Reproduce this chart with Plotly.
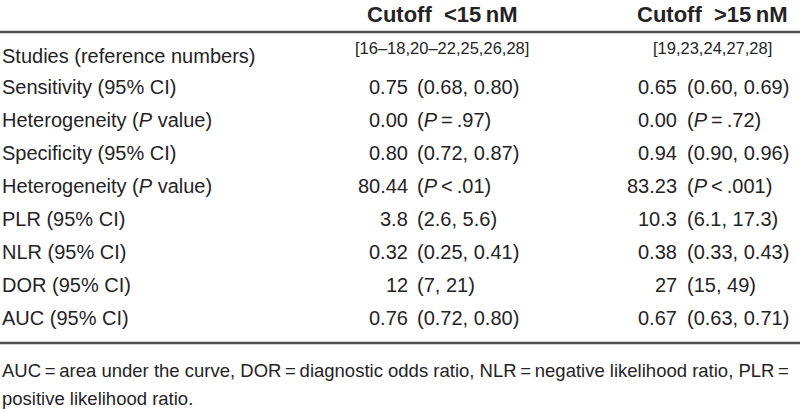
import plotly.graph_objects as go

# ---- data ----
col_headers = ["Cutoff\u00a0 <15\u2009nM", "Cutoff\u00a0 >15\u2009nM"]
studies_refs = ["[16–18,20–22,25,26,28]", "[19,23,24,27,28]"]
row_labels = [
    "Sensitivity (95% CI)",
    "Heterogeneity (<i>P</i> value)",
    "Specificity (95% CI)",
    "Heterogeneity (<i>P</i> value)",
    "PLR (95% CI)",
    "NLR (95% CI)",
    "DOR (95% CI)",
    "AUC (95% CI)",
]
studies_label = "Studies (reference numbers)"
low_est = ["0.75", "0.00", "0.80", "80.44", "3.8", "0.32", "12", "0.76"]
low_ci = ["(0.68, 0.80)", "(<i>P</i>\u2009=\u2009.97)", "(0.72, 0.87)", "(<i>P</i>\u2009<\u2009.01)",
          "(2.6, 5.6)", "(0.25, 0.41)", "(7, 21)", "(0.72, 0.80)"]
high_est = ["0.65", "0.00", "0.94", "83.23", "10.3", "0.38", "27", "0.67"]
high_ci = ["(0.60, 0.69)", "(<i>P</i>\u2009=\u2009.72)", "(0.90, 0.96)", "(<i>P</i>\u2009<\u2009.001)",
           "(6.1, 17.3)", "(0.33, 0.43)", "(15, 49)", "(0.63, 0.71)"]
footnote = [
    "AUC\u2009=\u2009area under the curve, DOR\u2009=\u2009diagnostic odds ratio, NLR\u2009=\u2009negative likelihood ratio, PLR\u2009=",
    "positive likelihood ratio.",
]

# ---- layout constants ----
W, H = 800, 411
FONT = "Liberation Sans, Arial, sans-serif"
TXT = "#262324"
LINE = "#505050"
BODY = 20
col_center = [442, 712]
col_split = [(409, 416), (678, 686)]
header_y = 14
top_rule = 32
studies_y = 56
studies_ref_y = 48
first_row_y = 87
row_step = 33
bottom_rule = 343
foot_y = [370, 398]

fig = go.Figure()
ann = []

def add(text, x, y, xa, size=BODY, bold=False):
    ann.append(dict(text=f"<b>{text}</b>" if bold else text, x=x, y=y, xref="x", yref="y",
                    xanchor=xa, yanchor="middle", showarrow=False, borderpad=0,
                    font=dict(family=FONT, size=size, color=TXT)))

for c, h in enumerate(col_headers):
    add(h, col_center[c], header_y, "center", size=22, bold=True)

add(studies_label, 1, studies_y, "left")
for c, s in enumerate(studies_refs):
    add(s, col_center[c], studies_ref_y, "center", size=16.5)

for i, lab in enumerate(row_labels):
    y = first_row_y + i * row_step
    add(lab, 1, y, "left")
    add(low_est[i], col_split[0][0], y, "right")
    add(low_ci[i], col_split[0][1], y, "left")
    add(high_est[i], col_split[1][0], y, "right")
    add(high_ci[i], col_split[1][1], y, "left")

for j, f in enumerate(footnote):
    add(f, 1, foot_y[j], "left", size=18.5)

shapes = [
    dict(type="line", xref="x", yref="y", x0=0, x1=W, y0=top_rule, y1=top_rule,
         line=dict(color=LINE, width=2.5)),
    dict(type="line", xref="x", yref="y", x0=0, x1=W, y0=bottom_rule, y1=bottom_rule,
         line=dict(color=LINE, width=2.5)),
]

fig.update_layout(
    width=W, height=H,
    margin=dict(l=0, r=0, t=0, b=0),
    paper_bgcolor="white", plot_bgcolor="white",
    xaxis=dict(range=[0, W], visible=False, fixedrange=True),
    yaxis=dict(range=[H, 0], visible=False, fixedrange=True),
    annotations=ann, shapes=shapes, showlegend=False,
)
fig.write_html(
    "out.html",
    config={"displayModeBar": False},
    post_script="document.body.style.margin='0';document.body.style.overflow='hidden';",
)
